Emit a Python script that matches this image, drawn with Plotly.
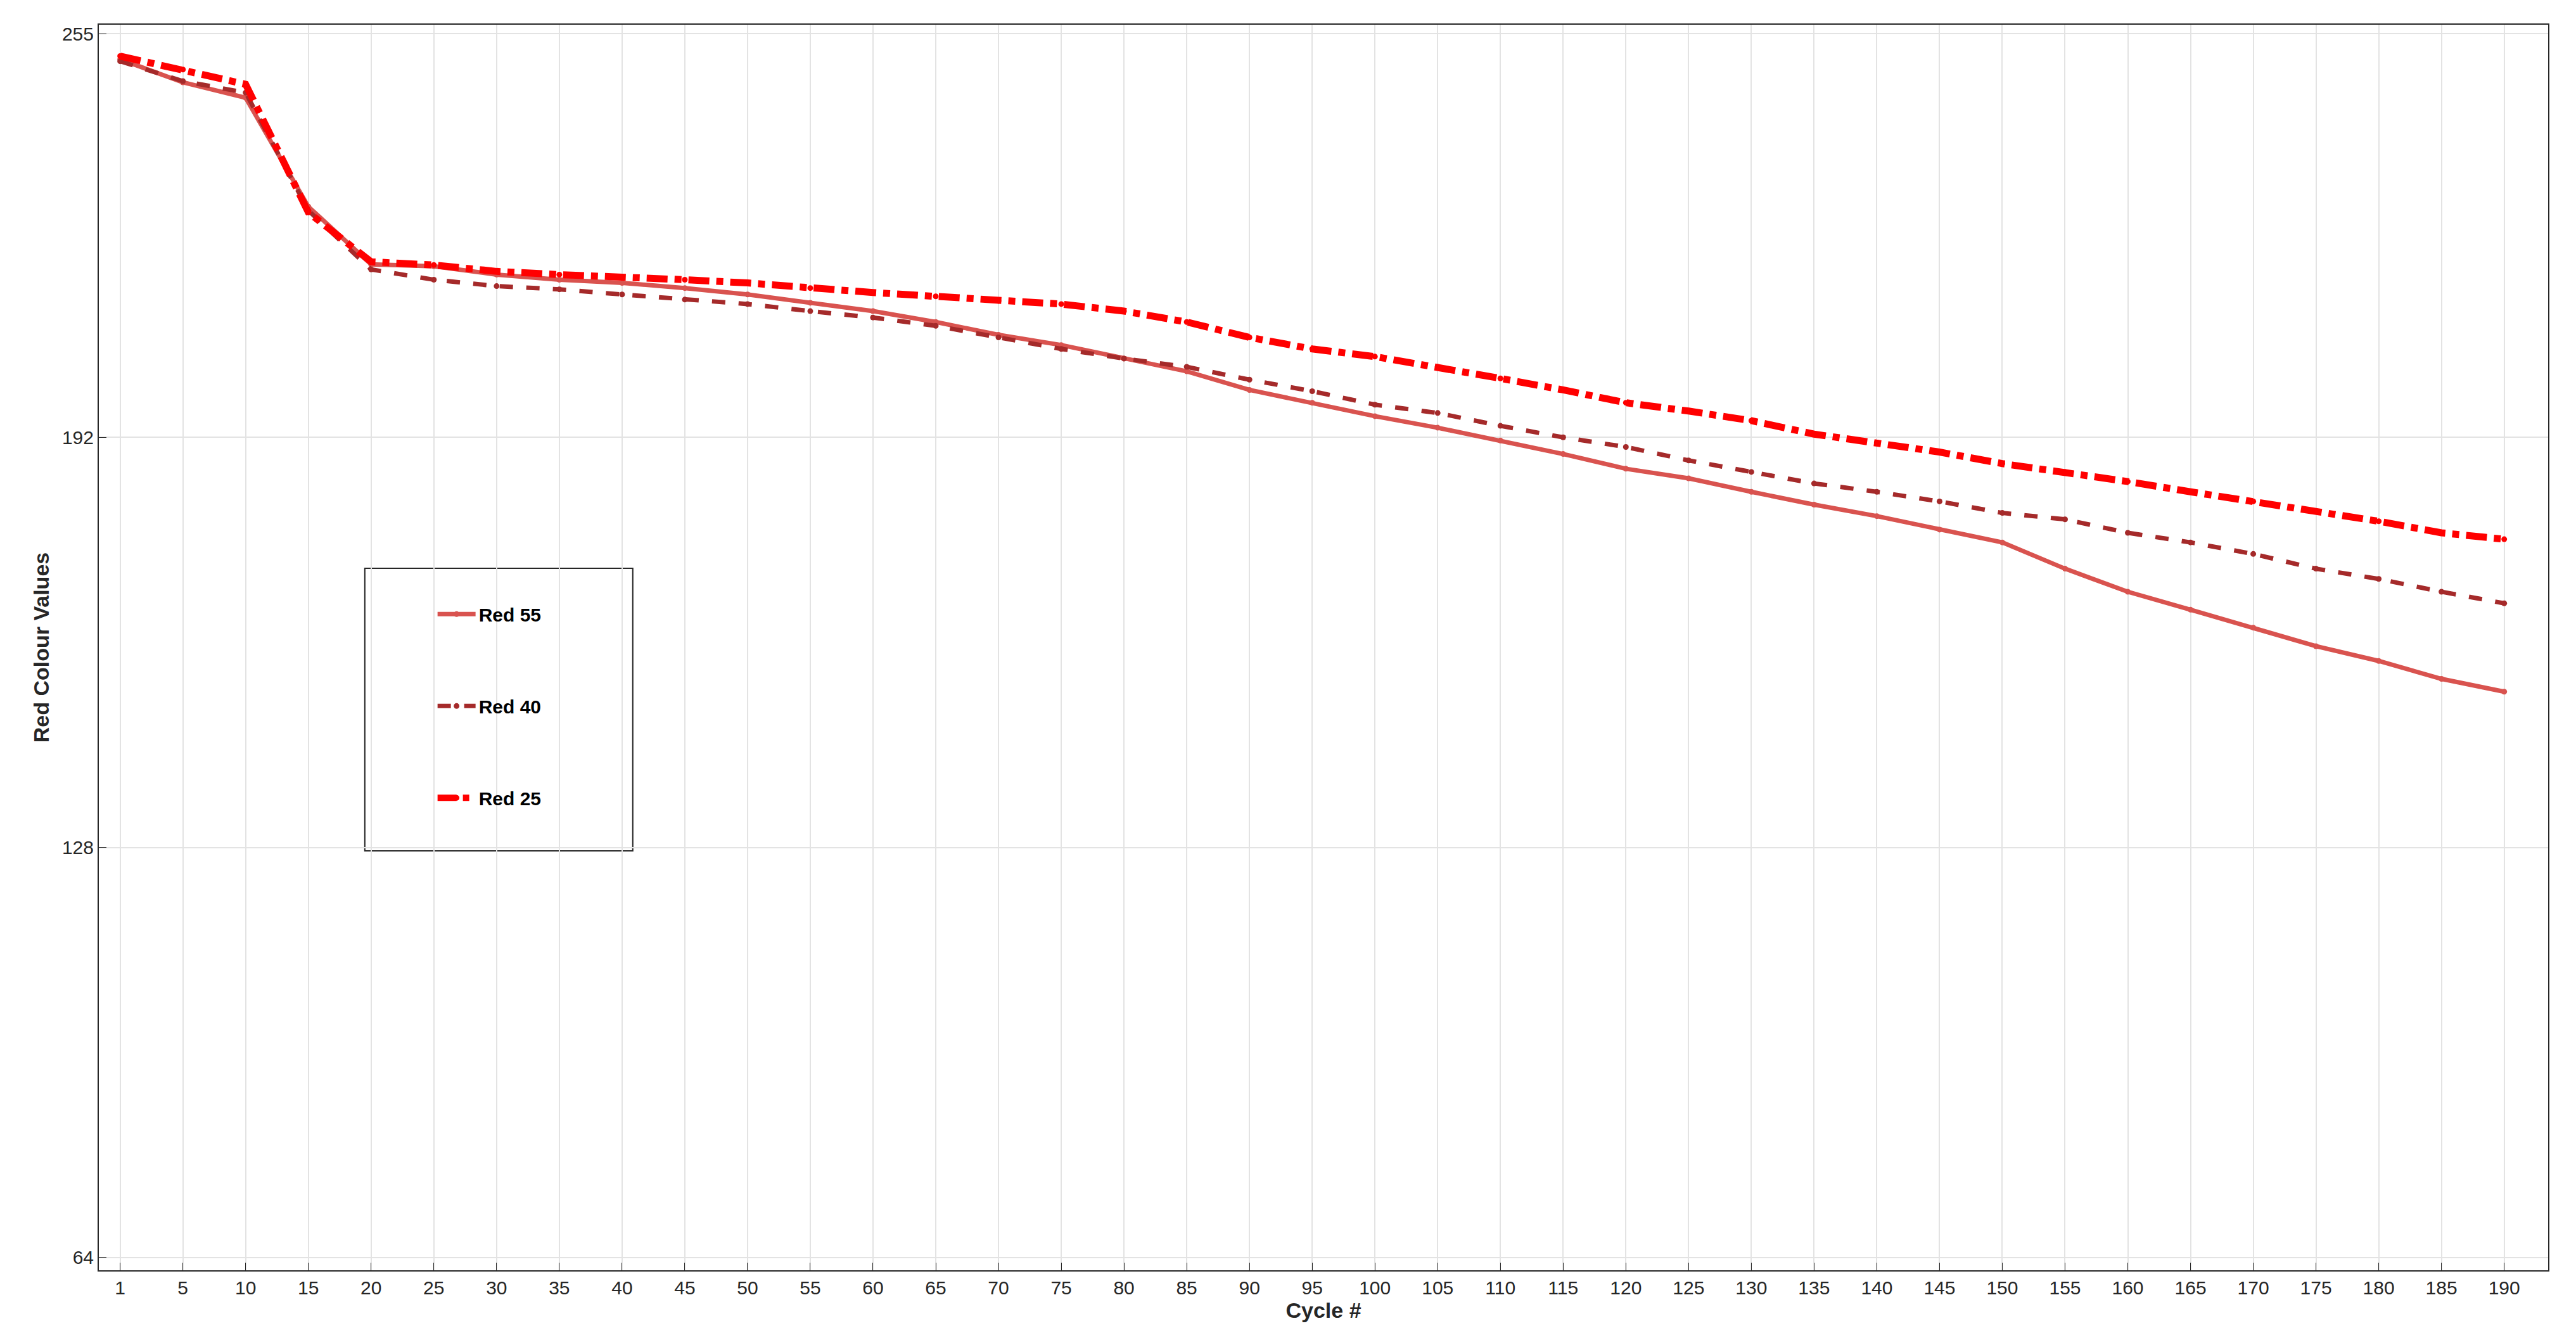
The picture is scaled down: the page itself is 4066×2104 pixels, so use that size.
import plotly.graph_objects as go

cycles = [1,5,10,15,20,25,30,35,40,45,50,55,60,65,70,75,80,85,90,95,100,105,110,115,120,125,130,135,140,145,150,155,160,165,170,175,180,185,190]
red55 = [251,247.4,245,228,219,218.7,217.4,216.6,216.1,215.3,214.3,213,211.7,210,208,206.4,204.3,202.3,199.4,197.4,195.3,193.5,191.5,189.4,187.1,185.6,183.5,181.5,179.7,177.6,175.6,171.5,167.9,165.1,162.3,159.4,157.1,154.3,152.3]
red40 = [250.7,247.6,245.8,227.4,218.2,216.6,215.6,215.1,214.3,213.5,212.8,211.7,210.7,209.4,207.6,205.8,204.3,203,201,199.2,197.1,195.8,193.8,192,190.5,188.4,186.6,184.8,183.5,182,180.2,179.2,177.1,175.6,173.8,171.5,169.9,167.9,166.1]
red25 = [251.5,249.4,247.1,227.1,219.4,218.9,217.9,217.4,217.1,216.6,216.1,215.3,214.6,214,213.3,212.8,211.7,210,207.6,205.8,204.6,203,201.2,199.4,197.4,196.1,194.6,192.5,191.2,189.7,187.9,186.6,185.1,183.5,182,180.5,178.9,177.1,176.1]
y_ticks = [64,128,192,255]

idx = list(range(len(cycles)))
fig = go.Figure()
series = [("Red 55", red55, "#d9534f", "solid", 7),
          ("Red 40", red40, "#a52a2a", "dash", 7),
          ("Red 25", red25, "#ff0000", "dashdot", 11)]
for name, vals, col, dash, w in series:
    fig.add_trace(go.Scatter(x=idx, y=vals, name="<b>" + name + "</b>", legendgroup=name,
                             mode="lines+markers",
                             line=dict(color=col, dash=dash, width=w),
                             marker=dict(size=9, color=col)))

fig.add_shape(type="rect", xref="paper", yref="paper", x0=0.1086, x1=0.218, y0=0.3367, y1=0.5636,
              line=dict(color="#262626", width=2), fillcolor="white", layer="below")

fig.update_layout(
    width=4066, height=2104, plot_bgcolor="white", paper_bgcolor="white",
    margin=dict(l=148, r=52, t=31, b=107),
    font=dict(family="Arial, Liberation Sans", size=30, color="#262626"),
    legend=dict(x=0.137, y=0.54, xanchor="left", yanchor="top",
                borderwidth=0, bgcolor="rgba(0,0,0,0)",
                font=dict(size=30, color="black"), tracegroupgap=103,
                itemwidth=60),
    showlegend=True,
)
fig.update_xaxes(range=[-0.34, 38.7], tickmode="array", tickvals=idx,
                 ticktext=[str(c) for c in cycles], showgrid=True, gridcolor="#e3e3e3",
                 gridwidth=2, showline=True, linecolor="#262626", linewidth=2, mirror=True,
                 ticks="inside", ticklen=12, tickcolor="#262626", zeroline=False,
                 title=dict(text="<b>Cycle #</b>", font=dict(size=34), standoff=8))
fig.update_yaxes(range=[62, 256.4], tickmode="array", tickvals=y_ticks,
                 showgrid=True, gridcolor="#e3e3e3", gridwidth=2,
                 showline=True, linecolor="#262626", linewidth=2, mirror=True,
                 ticks="inside", ticklen=12, tickcolor="#262626", zeroline=False,
                 title=dict(text="<b>Red Colour Values</b>", font=dict(size=34), standoff=10))
fig.write_html("out.html")
